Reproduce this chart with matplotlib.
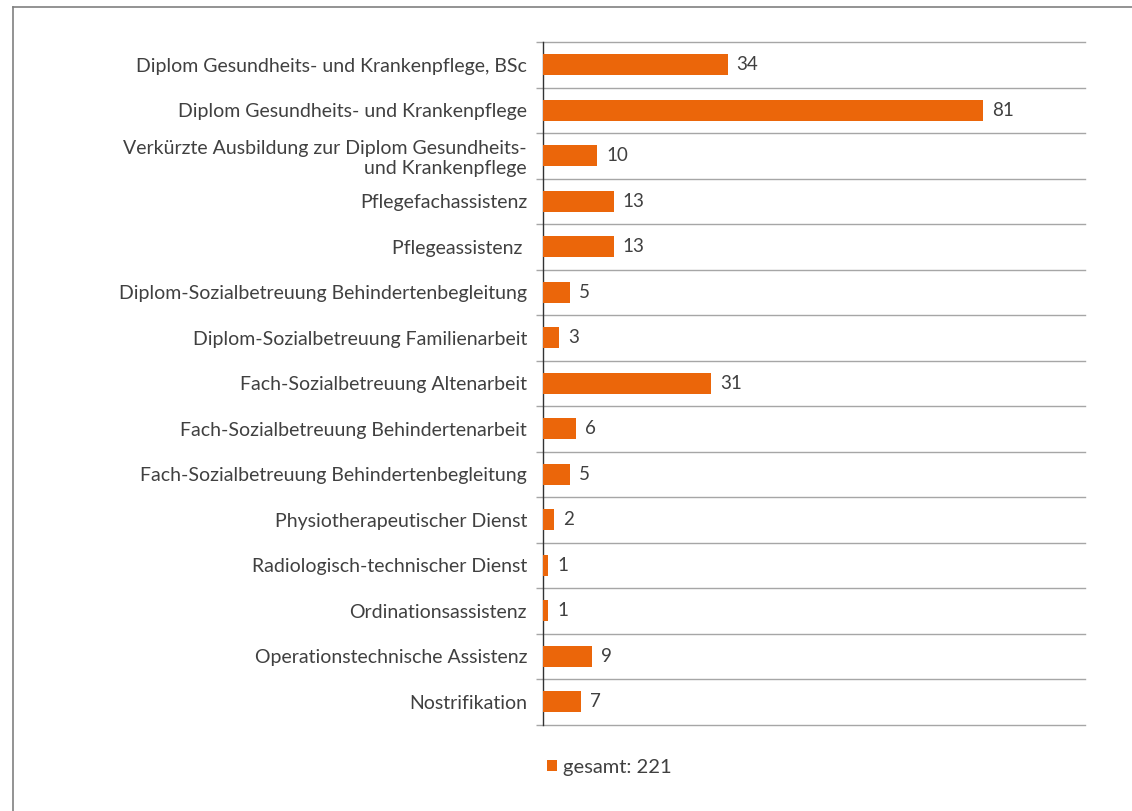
import matplotlib
matplotlib.use("Agg")
import matplotlib.pyplot as plt
from matplotlib.lines import Line2D
from matplotlib.patches import Patch

categories = [
    "Diplom Gesundheits- und Krankenpflege, BSc",
    "Diplom Gesundheits- und Krankenpflege",
    "Verkürzte Ausbildung zur Diplom Gesundheits-\nund Krankenpflege",
    "Pflegefachassistenz",
    "Pflegeassistenz ",
    "Diplom-Sozialbetreuung Behindertenbegleitung",
    "Diplom-Sozialbetreuung Familienarbeit",
    "Fach-Sozialbetreuung Altenarbeit",
    "Fach-Sozialbetreuung Behindertenarbeit",
    "Fach-Sozialbetreuung Behindertenbegleitung",
    "Physiotherapeutischer Dienst",
    "Radiologisch-technischer Dienst",
    "Ordinationsassistenz",
    "Operationstechnische Assistenz",
    "Nostrifikation",
]
values = [34, 81, 10, 13, 13, 5, 3, 31, 6, 5, 2, 1, 1, 9, 7]
legend_label = "gesamt: 221"

plt.rcParams['font.family'] = ['Lato', 'DejaVu Sans']
text_color = "#404040"
bar_color = "#EB660A"
grid_color = "#a6a6a6"

W, H = 1132, 811
fig = plt.figure(figsize=(W / 100, H / 100), dpi=100)
ax = fig.add_axes([543 / W, 1 - 724.5 / H, (1085 - 543) / W, (724.5 - 42) / H])

n = len(categories)
ypos = list(range(n))
ax.barh(ypos, values, height=0.46, color=bar_color, zorder=3)
ax.set_ylim(n - 0.5, -0.5)
ax.set_xlim(0, 99.8)

ax.set_yticks(ypos)
ax.set_yticklabels(categories, fontsize=14, color=text_color, linespacing=1.2)
ax.tick_params(axis='y', which='major', length=0, pad=11.5)
ax.set_yticks([i - 0.5 for i in range(n + 1)], minor=True)
ax.tick_params(axis='y', which='minor', length=5, width=1, color=grid_color)
ax.grid(axis='y', which='minor', color=grid_color, linewidth=1, zorder=0, clip_on=False)
ax.set_xticks([])

for s in ['top', 'right', 'bottom']:
    ax.spines[s].set_visible(False)
ax.spines['left'].set_color("#333333")
ax.spines['left'].set_linewidth(1)

for y, v in zip(ypos, values):
    ax.annotate(str(v), (v, y), xytext=(6.5, 0), textcoords='offset points',
                va='center', ha='left', fontsize=13.5, color=text_color)

# Legend
fig.legend(handles=[Patch(facecolor=bar_color, edgecolor='none')], labels=[legend_label],
           loc='center left', bbox_to_anchor=(541 / W, 1 - 767 / H), frameon=False,
           fontsize=14.5, handlelength=0.5, handleheight=0.5, handletextpad=0.3,
           borderpad=0.0, borderaxespad=0.3, labelcolor=text_color)

# Border lines
fig.add_artist(Line2D([13 / W, 1], [1 - 7 / H, 1 - 7 / H], color="#808080", linewidth=1.2))
fig.add_artist(Line2D([13 / W, 13 / W], [0, 1 - 7 / H], color="#808080", linewidth=1.2))

fig.savefig("out.png", dpi=100, facecolor="white")
